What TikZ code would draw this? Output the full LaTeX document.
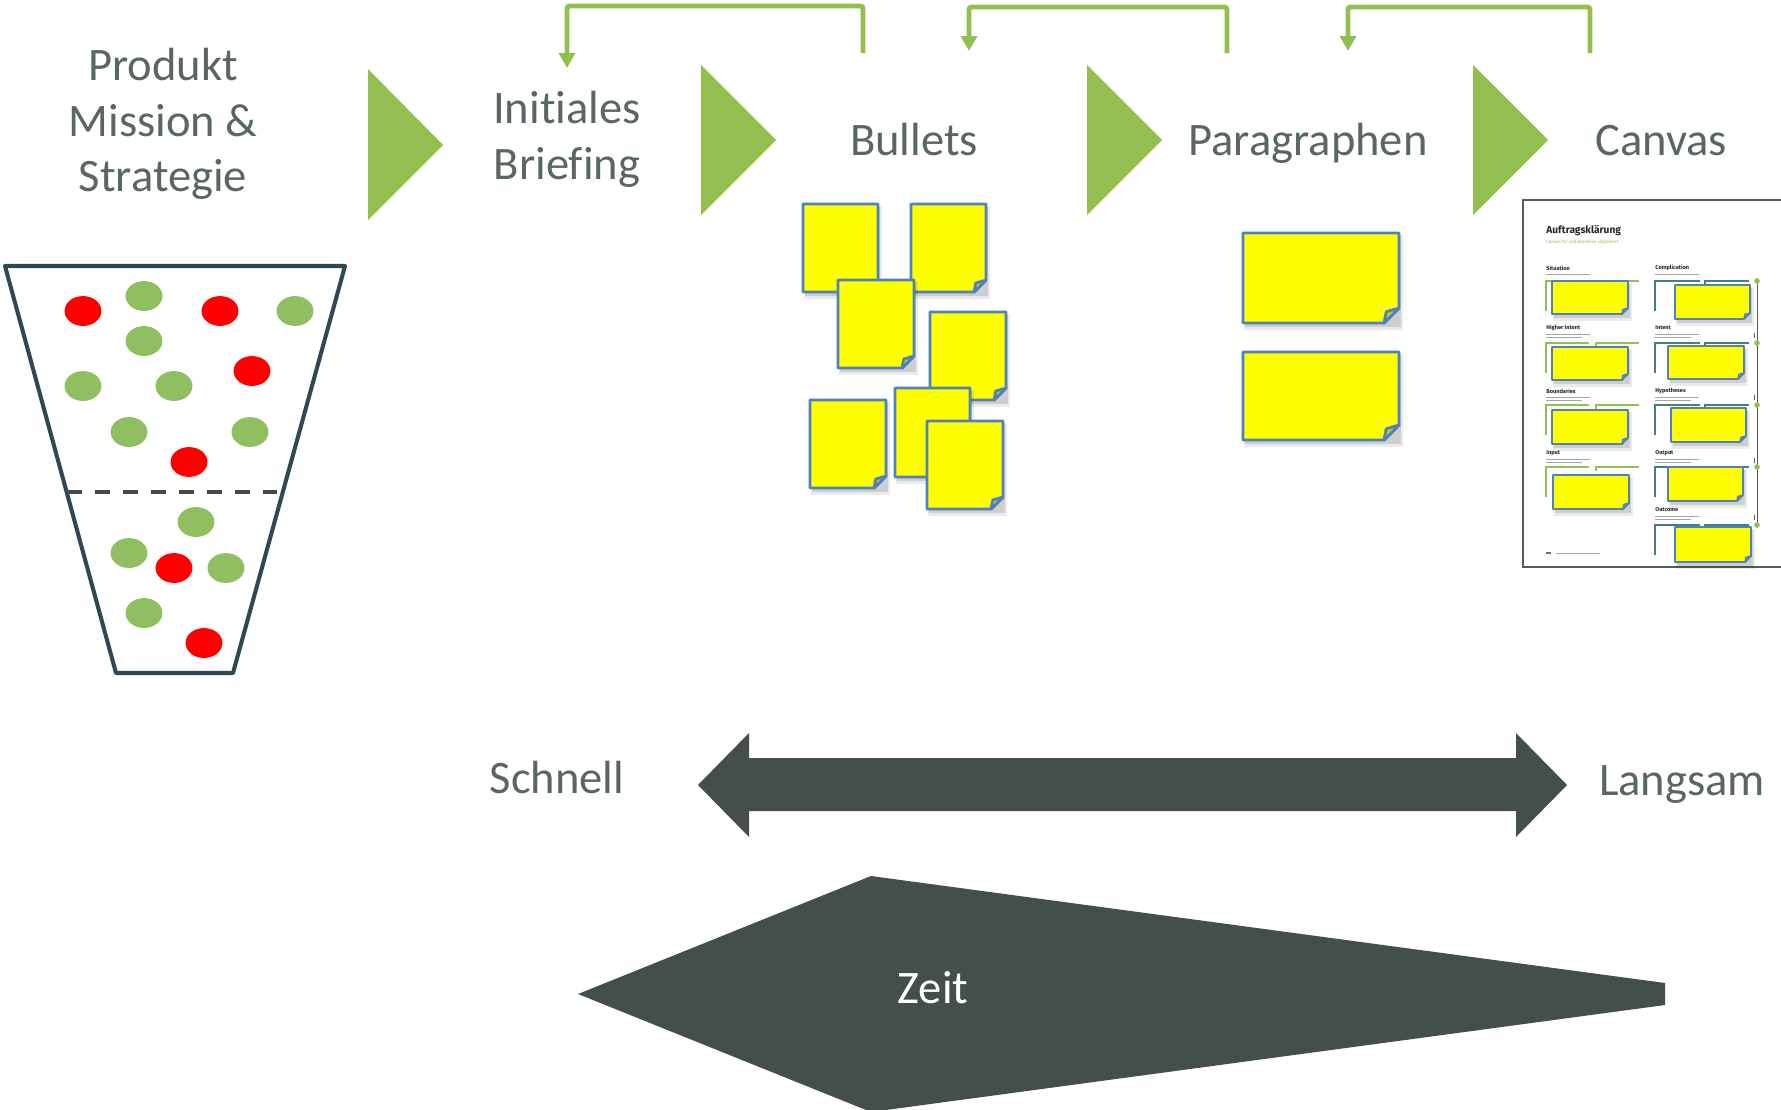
\documentclass[tikz,border=0pt]{standalone}
\usepackage{fontspec}
\setmainfont{Carlito}[Ligatures=NoCommon]
\newfontfamily\fira{Fira Sans}
\usetikzlibrary{arrows.meta}
\definecolor{txt}{RGB}{89,103,98}
\definecolor{grn}{RGB}{146,191,80}
\definecolor{dotg}{RGB}{143,191,96}
\definecolor{dotr}{RGB}{255,0,0}
\definecolor{funnelc}{RGB}{47,72,85}
\definecolor{dashc}{RGB}{65,75,75}
\definecolor{darkc}{RGB}{68,79,76}
\definecolor{stb}{RGB}{79,129,189}
\definecolor{sty}{RGB}{255,255,0}
\definecolor{foldc}{RGB}{205,205,30}
\definecolor{tealc}{RGB}{70,125,135}
\definecolor{framec}{RGB}{85,92,92}
\definecolor{descc}{RGB}{165,165,165}

% sticky note: x0,y0,x1,y1,fold size
\newcommand\stickynote[5]{%
 \fill[black,opacity=.08] (#1+1,#2+2) rectangle (#3+4,#4+7);
 \fill[black,opacity=.12] (#1+2,#2+3) rectangle (#3+2,#4+4);
 \filldraw[fill=sty,draw=stb,line join=round] (#1,#2) -- (#3,#2) -- (#3,#4-#5) -- (#3-#5,#4) -- (#1,#4) -- cycle;
 \filldraw[fill=foldc,draw=stb,line join=round] (#3,#4-#5) -- (#3-#5,#4) -- (#3-0.85*#5,#4-0.75*#5) -- cycle;
}
% canvas section: x, y(title centre), title, number of description lines
\newcommand\cansec[4]{%
 \node[anchor=west,inner sep=0,font=\fira\bfseries\fontsize{3.2}{3.6}\selectfont,text=black!85] at (#1,#2) {#3};
 \draw[descc,line width=0.35pt] (#1,#2+6) -- ++(44,0);
 \ifnum#4>1 \draw[descc,line width=0.35pt] (#1,#2+9) -- ++(36,0);\fi
}

\tikzset{
  lbl/.style={inner sep=0pt,text=txt,font=\fontsize{26.5}{31.7}\selectfont},
  fb/.style={grn,line width=2.8pt,rounded corners=1.5pt,-{Triangle[width=9pt,length=8.5pt]}},
  playtri/.style={fill=grn},
}

\begin{document}
\begin{tikzpicture}[x=0.02cm,y=-0.02cm]
\useasboundingbox (0,0) rectangle (1781,1109);
\fill[white] (0,0) rectangle (1781,1109);
\begin{scope}
\clip (0,0) rectangle (1781,1109);

% ---------- headings ----------
\node[lbl,align=center] (prod) at (163,124) {Produkt\\Mission \&\\Strategie};
\node[lbl,align=center] (brief) at (567,139) {Initiales\\Briefing};
\node[lbl,anchor=base] (bullets) at (914,155) {Bullets};
\node[lbl,anchor=base] (para) at (1308,155) {Paragraphen};
\node[lbl,anchor=base] (canvas) at (1661,155) {Canvas};

% ---------- green play triangles ----------
\fill[playtri] (368,69) -- (443,145) -- (368,220) -- cycle;
\fill[playtri] (701,65) -- (776,140) -- (701,215) -- cycle;
\fill[playtri] (1087,65) -- (1162,140) -- (1087,215) -- cycle;
\fill[playtri] (1473,65) -- (1548,140) -- (1473,215) -- cycle;

% ---------- feedback arrows ----------
\coordinate (fb1a) at (863,53);  \coordinate (fb1b) at (567,68);
\coordinate (fb2a) at (1227,53); \coordinate (fb2b) at (969,51);
\coordinate (fb3a) at (1590,53); \coordinate (fb3b) at (1348,51);
\draw[fb] (fb1a) -- ++(0,-47) -| (fb1b);
\draw[fb] (fb2a) -- ++(0,-46) -| (fb2b);
\draw[fb] (fb3a) -- ++(0,-46) -| (fb3b);

% ---------- funnel ----------
\draw[funnelc,line width=2.3pt,line join=round] (5,266) -- (345,266) -- (233,673) -- (116,673) -- cycle;
\draw[dashc,line width=2.3pt,dash pattern=on 8.5pt off 7.4pt] (67,492) -- (277,492);
\foreach \x/\y in {83/311,220/311,252/371,189/462,174/568,204/643}
  \fill[dotr] (\x,\y) ellipse [x radius=10.5pt,y radius=8.5pt];
\foreach \x/\y in {144/296,295/311,144/341,83/386,174/386,129/432,250/432,196/522,129/553,226/568,144/613}
  \fill[dotg] (\x,\y) ellipse [x radius=10.5pt,y radius=8.5pt];

% ---------- bullet stickies ----------
\begin{scope}[line width=1.6pt]
\stickynote{803}{204}{878}{292}{12}
\stickynote{911}{204}{986}{292}{12}
\stickynote{838}{280}{914}{368}{12}
\stickynote{930}{312}{1006}{400}{12}
\stickynote{810}{400}{886}{488}{12}
\stickynote{895}{388}{970}{477}{12}
\stickynote{927}{421}{1003}{509}{12}
% paragraph stickies
\stickynote{1243}{233}{1399}{323}{15}
\stickynote{1243}{352}{1399}{440}{15}
\end{scope}

% ---------- canvas thumbnail ----------
\draw[framec,line width=1.5pt] (1523,200) rectangle (1795,567);
\node[anchor=west,inner sep=0,font=\fira\bfseries\fontsize{5.8}{6.5}\selectfont,text=black!85] (ctitle) at (1546,231) {Auftragsklärung};
\node[anchor=west,inner sep=0,font=\fira\fontsize{2.6}{3}\selectfont,text=grn] (csub) at (1546,242) {Canvas for collaborative alignment};

\cansec{1546}{268}{Situation}{1}
\cansec{1655}{268}{Complication}{1}
\cansec{1546}{328}{Higher Intent}{2}
\cansec{1655}{328}{Intent}{2}
\cansec{1546}{391}{Boundaries}{2}
\cansec{1655}{391}{Hypotheses}{2}
\cansec{1546}{453}{Input}{2}
\cansec{1655}{453}{Output}{2}
\cansec{1655}{510}{Outcome}{2}

% brackets
\begin{scope}[line width=0.8pt]
\draw[grn] (1546,311) -- (1546,281) -- (1639,281);
\foreach \bt in {343,405,467}{
  \draw[grn] (1546,\bt+30) -- (1546,\bt) -- (1589,\bt);
  \draw[grn] (1596,\bt+4) -- (1596,\bt) -- (1639,\bt);
}
\foreach \bt in {281,343,405,467,525}{
  \draw[tealc] (1655,\bt+30) -- (1655,\bt) -- (1700,\bt);
  \draw[tealc] (1705,\bt+3) -- (1705,\bt) -- (1749,\bt);
}
\end{scope}

% timeline
\draw[framec,line width=0.5pt] (1757,281) -- (1757,525);
\foreach \y in {335,397,460,517}
  \draw[framec,line width=0.5pt] (1755,\y-2) -- (1754,\y-2) -- (1754,\y+2) -- (1755,\y+2);
\foreach \y in {281,343,405,467,525}
  \fill[grn] (1757,\y) circle[radius=1.6pt];

% canvas stickies
\begin{scope}[line width=0.9pt]
\stickynote{1552}{281}{1628}{314}{6}
\stickynote{1675}{285}{1750}{319}{6}
\stickynote{1552}{347}{1628}{380}{6}
\stickynote{1668}{346}{1744}{379}{6}
\stickynote{1552}{410}{1628}{444}{6}
\stickynote{1671}{408}{1746}{442}{6}
\stickynote{1553}{475}{1629}{509}{6}
\stickynote{1668}{467}{1743}{501}{6}
\stickynote{1675}{527}{1751}{562}{6}
\end{scope}

% footer
\fill[tealc] (1546,552) rectangle (1551,554);
\draw[descc,line width=0.35pt] (1556,553) -- (1600,553);

% ---------- speed arrow ----------
\node[lbl,anchor=base] (schnell) at (557,793) {Schnell};
\node[lbl,anchor=base] (langsam) at (1682,795) {Langsam};
\fill[darkc] (698,785) -- (749,733) -- (749,758) -- (1516,758) -- (1516,733) -- (1567,785)
  -- (1516,837) -- (1516,811) -- (749,811) -- (749,837) -- cycle;

% ---------- time shape ----------
\fill[darkc] (578,994) -- (871,876) -- (1665,983) -- (1665,1005) -- (871,1112) -- cycle;
\node[lbl,anchor=base,text=white] (zeit) at (933,1003) {Zeit};
\end{scope}
\end{tikzpicture}
\end{document}
